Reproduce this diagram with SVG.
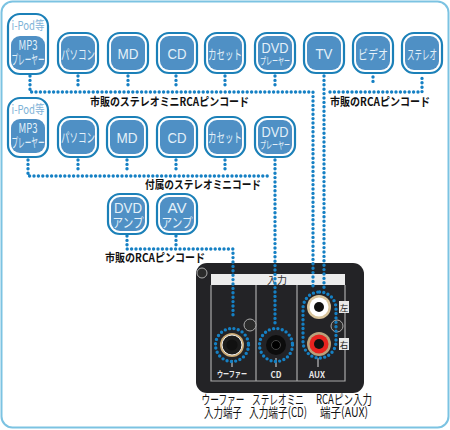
<svg xmlns="http://www.w3.org/2000/svg" width="450" height="430" viewBox="0 0 450 430">
<style>
text{font-family:"Noto Sans CJK JP","Noto Sans",sans-serif;text-anchor:middle}
.o{fill:#fff;stroke:#1b80b8;stroke-width:2.2}
.i{fill:#4f90c5}
.n{fill:#e4f0f9;font-size:13px}
.m{fill:#e4f0f9;font-size:10.5px}
.b{fill:#e4f0f9;font-size:15px;font-family:"Liberation Sans",sans-serif}
.t{fill:#7fb3d8;font-size:12px}
.d{fill:none;stroke:#1580c4;stroke-width:3.4;stroke-linecap:round;stroke-dasharray:0 4.4}
.l{fill:#111;font-size:11.5px;font-weight:700}
.p{fill:#111;font-size:13px}
.w{fill:#e8e8e8;font-size:8.5px;font-weight:700}
.f{fill:none;stroke:#a9a9a9;stroke-width:1.2}
.s{fill:#2b2b2b;stroke:#aaa;stroke-width:1}
.k{fill:#111}
</style>
<rect x="1.5" y="1.5" width="447" height="426" rx="11" fill="#fff" stroke="#7cc3e2" stroke-width="2"/>

<g id="panel">
<rect x="196" y="263" width="168" height="130" rx="11" fill="#232326"/>
<circle class="s" cx="202" cy="273" r="5"/>
<rect x="211" y="274" width="134" height="11" fill="#ececec"/>
<path class="f" d="M211 285V381H345V285M256 285V381M297 285V381"/>
<text x="277" y="284" font-size="10" fill="#333">入力</text>
<circle class="s" cx="250" cy="325" r="6"/>
<circle class="s" cx="337" cy="326" r="6"/>
<rect x="339" y="301" width="10" height="12" fill="#e8e8e8"/>
<text x="344" y="311" font-size="8.500" fill="#222">左</text>
<rect x="339" y="338" width="10" height="12" fill="#e8e8e8"/>
<text x="344" y="348" font-size="8.500" fill="#222">右</text>
<circle cx="232" cy="345" r="12" fill="#c9a873"/><circle cx="232" cy="345" r="10" fill="#1c1c1c" stroke="#eee" stroke-width="1"/><circle class="k" cx="232" cy="345" r="5.500"/>
<circle cx="276" cy="345" r="10" fill="#0c0c0c"/><circle cx="276" cy="345" r="4.500" fill="#000" stroke="#444"/>
<circle cx="319" cy="307" r="12" fill="#d8c49c"/><circle cx="319" cy="307" r="9.500" fill="#fff"/><circle class="k" cx="319" cy="307" r="5"/>
<circle cx="319" cy="344" r="12" fill="#b9a27c"/><circle cx="319" cy="344" r="9.500" fill="#e8231f"/><circle class="k" cx="319" cy="344" r="5"/>
<path d="M232 360V367M276 358V367M318 358V367" stroke="#ddd" stroke-width="1"/>
<text class="w" x="232" y="377" textLength="30" lengthAdjust="spacingAndGlyphs">ウーファー</text>
<text class="w" x="276" y="378" textLength="11" lengthAdjust="spacingAndGlyphs">CD</text>
<text class="w" x="317" y="378" textLength="16" lengthAdjust="spacingAndGlyphs">AUX</text>
</g>

<g id="connectors">
<path class="d" d="M30 76V92H313V288"/>
<path class="d" d="M78 76V86M128 76V86M176 76V86M225 76V86M275 76V86"/>
<path class="d" d="M324 76V288"/>
<path class="d" d="M330 92H422V76M373 77V85"/>
<path class="d" d="M28 160V176H268"/>
<path class="d" d="M78 160V170M127 160V170M176 160V170M225 160V170"/>
<path class="d" d="M275 160V325"/>
<path class="d" d="M127 236V249H233V315"/>
<path class="d" d="M176 236V246"/>
<circle class="d" cx="232" cy="345" r="16.500"/>
<circle class="d" cx="276" cy="345" r="16.500"/>
<rect class="d" x="303" y="292" width="33" height="66" rx="16.500"/>
</g>

<g id="n-ipod1"><rect class="o" x="8" y="14" width="40" height="60" rx="12"/><rect class="i" x="11" y="36" width="34" height="34" rx="9"/><text class="t" x="28" y="30" textLength="33" lengthAdjust="spacingAndGlyphs">i-Pod等</text><text class="n" x="28" y="50" textLength="19" lengthAdjust="spacingAndGlyphs">MP3</text><text class="n" x="28" y="64" textLength="33" lengthAdjust="spacingAndGlyphs">プレーヤー</text></g>
<g id="n-pc1"><rect class="o" x="58" y="33" width="40" height="40" rx="12"/><rect class="i" x="61" y="36" width="34" height="34" rx="9"/><text class="n" x="78" y="59" textLength="34" lengthAdjust="spacingAndGlyphs">パソコン</text></g>
<g id="n-md1"><rect class="o" x="108" y="33" width="40" height="40" rx="12"/><rect class="i" x="111" y="36" width="34" height="34" rx="9"/><text class="b" x="128" y="59" textLength="21" lengthAdjust="spacingAndGlyphs">MD</text></g>
<g id="n-cd1"><rect class="o" x="157" y="33" width="40" height="40" rx="12"/><rect class="i" x="160" y="36" width="34" height="34" rx="9"/><text class="b" x="177" y="59" textLength="19" lengthAdjust="spacingAndGlyphs">CD</text></g>
<g id="n-cas1"><rect class="o" x="205" y="33" width="40" height="40" rx="12"/><rect class="i" x="208" y="36" width="34" height="34" rx="9"/><text class="n" x="225" y="59" textLength="34" lengthAdjust="spacingAndGlyphs">カセット</text></g>
<g id="n-dvd1"><rect class="o" x="255" y="33" width="40" height="40" rx="12"/><rect class="i" x="258" y="36" width="34" height="34" rx="9"/><text class="b" x="275" y="53" textLength="27" lengthAdjust="spacingAndGlyphs">DVD</text><text class="m" x="275" y="65" textLength="30" lengthAdjust="spacingAndGlyphs">プレーヤー</text></g>
<g id="n-tv"><rect class="o" x="304" y="33" width="40" height="40" rx="12"/><rect class="i" x="307" y="36" width="34" height="34" rx="9"/><text class="b" x="324" y="59" textLength="17" lengthAdjust="spacingAndGlyphs">TV</text></g>
<g id="n-video"><rect class="o" x="353" y="33" width="40" height="40" rx="12"/><rect class="i" x="356" y="36" width="34" height="34" rx="9"/><text class="n" x="373" y="59" textLength="30" lengthAdjust="spacingAndGlyphs">ビデオ</text></g>
<g id="n-stereo"><rect class="o" x="402" y="33" width="40" height="40" rx="12"/><rect class="i" x="405" y="36" width="34" height="34" rx="9"/><text class="n" x="422" y="59" textLength="30" lengthAdjust="spacingAndGlyphs">ステレオ</text></g>

<g id="n-ipod2"><rect class="o" x="8" y="98" width="40" height="59" rx="12"/><rect class="i" x="11" y="119" width="34" height="34" rx="9"/><text class="t" x="28" y="114" textLength="33" lengthAdjust="spacingAndGlyphs">i-Pod等</text><text class="n" x="28" y="133" textLength="19" lengthAdjust="spacingAndGlyphs">MP3</text><text class="n" x="28" y="147" textLength="33" lengthAdjust="spacingAndGlyphs">プレーヤー</text></g>
<g id="n-pc2"><rect class="o" x="58" y="117" width="40" height="40" rx="12"/><rect class="i" x="61" y="120" width="34" height="34" rx="9"/><text class="n" x="78" y="142" textLength="34" lengthAdjust="spacingAndGlyphs">パソコン</text></g>
<g id="n-md2"><rect class="o" x="107" y="117" width="40" height="40" rx="12"/><rect class="i" x="110" y="120" width="34" height="34" rx="9"/><text class="b" x="127" y="143" textLength="21" lengthAdjust="spacingAndGlyphs">MD</text></g>
<g id="n-cd2"><rect class="o" x="157" y="117" width="40" height="40" rx="12"/><rect class="i" x="160" y="120" width="34" height="34" rx="9"/><text class="b" x="177" y="143" textLength="19" lengthAdjust="spacingAndGlyphs">CD</text></g>
<g id="n-cas2"><rect class="o" x="205" y="117" width="40" height="40" rx="12"/><rect class="i" x="208" y="120" width="34" height="34" rx="9"/><text class="n" x="225" y="142" textLength="34" lengthAdjust="spacingAndGlyphs">カセット</text></g>
<g id="n-dvd2"><rect class="o" x="255" y="117" width="40" height="40" rx="12"/><rect class="i" x="258" y="120" width="34" height="34" rx="9"/><text class="b" x="275" y="137" textLength="27" lengthAdjust="spacingAndGlyphs">DVD</text><text class="m" x="275" y="149" textLength="30" lengthAdjust="spacingAndGlyphs">プレーヤー</text></g>

<g id="n-dvdamp"><rect class="o" x="108" y="194" width="40" height="40" rx="12"/><rect class="i" x="111" y="197" width="34" height="34" rx="9"/><text class="b" x="128" y="213" textLength="28" lengthAdjust="spacingAndGlyphs">DVD</text><text class="n" x="128" y="227" textLength="31" lengthAdjust="spacingAndGlyphs">アンプ</text></g>
<g id="n-avamp"><rect class="o" x="157" y="194" width="40" height="40" rx="12"/><rect class="i" x="160" y="197" width="34" height="34" rx="9"/><text class="b" x="177" y="213" textLength="19" lengthAdjust="spacingAndGlyphs">AV</text><text class="n" x="177" y="227" textLength="31" lengthAdjust="spacingAndGlyphs">アンプ</text></g>

<g id="labels">
<text class="l" x="169.500" y="106" textLength="159" lengthAdjust="spacingAndGlyphs">市販のステレオミニRCAピンコード</text>
<text class="l" x="203" y="189" textLength="116" lengthAdjust="spacingAndGlyphs">付属のステレオミニコード</text>
<text class="l" x="380" y="106" textLength="100" lengthAdjust="spacingAndGlyphs">市販のRCAピンコード</text>
<text class="l" x="155" y="262" textLength="100" lengthAdjust="spacingAndGlyphs">市販のRCAピンコード</text>
<text class="p" x="223" y="404" textLength="43" lengthAdjust="spacingAndGlyphs">ウーファー</text>
<text class="p" x="223" y="417" textLength="38" lengthAdjust="spacingAndGlyphs">入力端子</text>
<text class="p" x="278" y="404" textLength="52" lengthAdjust="spacingAndGlyphs">ステレオミニ</text>
<text class="p" x="278" y="417" textLength="58" lengthAdjust="spacingAndGlyphs">入力端子(CD)</text>
<text class="p" x="344" y="404" textLength="56" lengthAdjust="spacingAndGlyphs">RCAピン入力</text>
<text class="p" x="344" y="417" textLength="48" lengthAdjust="spacingAndGlyphs">端子(AUX)</text>
</g>
</svg>
